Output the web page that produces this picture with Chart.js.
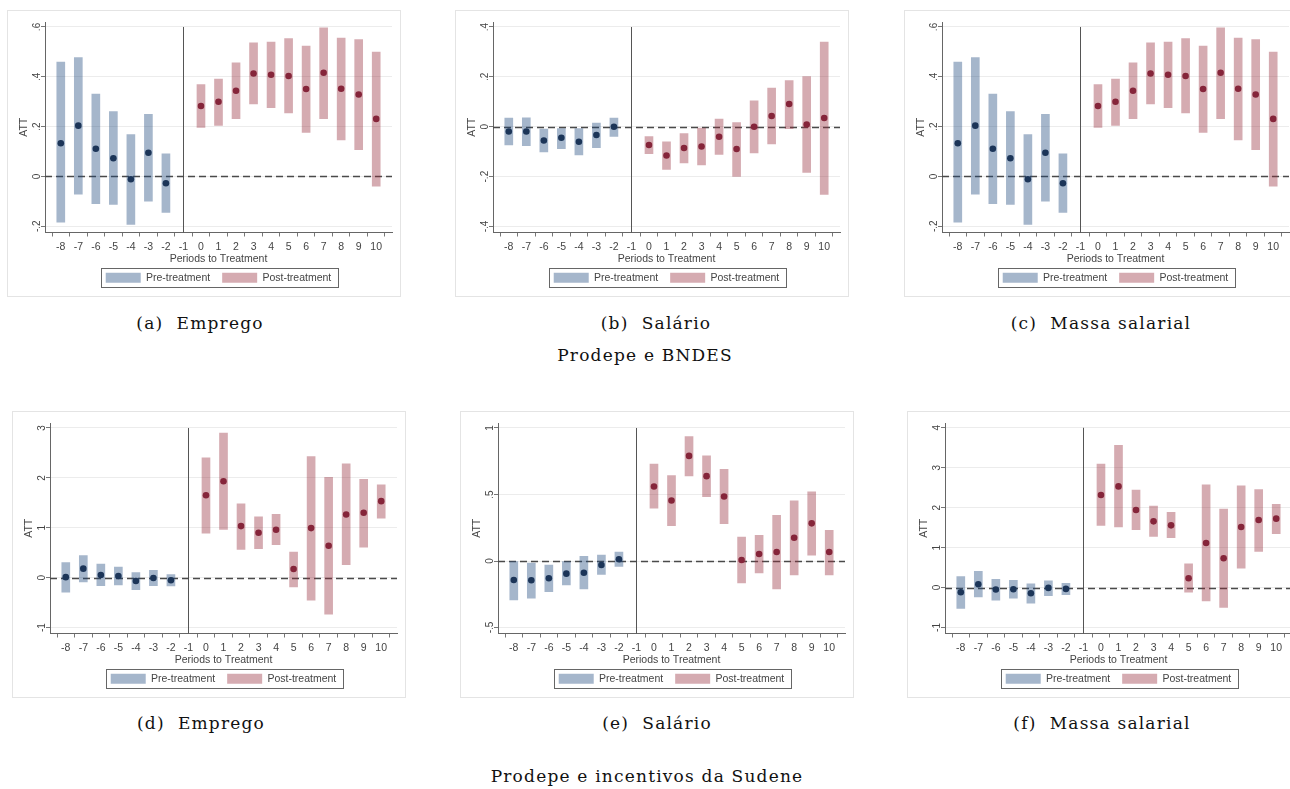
<!DOCTYPE html>
<html>
<head>
<meta charset="utf-8">
<script src="https://cdn.jsdelivr.net/npm/chart.js@4.4.1/dist/chart.umd.min.js"></script>
<style>
  body { margin: 0; width: 1290px; height: 789px; overflow: hidden; position: relative; background: #fff; }
  .panel { position: absolute; }
  .cap { position: absolute; font-family: 'DejaVu Serif', serif; font-size: 17px; letter-spacing: 1.2px; color: #111;
         transform: translate(-50%, -50%); white-space: nowrap; }
</style>
</head>
<body>
<canvas id="chartA" class="panel" width="394" height="287" style="left:7px;top:10px"></canvas>
<canvas id="chartB" class="panel" width="394" height="287" style="left:455px;top:10px"></canvas>
<canvas id="chartC" class="panel" width="394" height="287" style="left:904px;top:10px"></canvas>
<canvas id="chartD" class="panel" width="394" height="287" style="left:12px;top:411px"></canvas>
<canvas id="chartE" class="panel" width="394" height="287" style="left:460px;top:411px"></canvas>
<canvas id="chartF" class="panel" width="394" height="287" style="left:907px;top:411px"></canvas>

<div class="cap" style="left:200px;top:323px">(a)&nbsp; Emprego</div>
<div class="cap" style="left:656px;top:323px">(b)&nbsp; Salário</div>
<div class="cap" style="left:1101px;top:323px">(c)&nbsp; Massa salarial</div>
<div class="cap" style="left:645px;top:355px">Prodepe e BNDES</div>
<div class="cap" style="left:201px;top:723px">(d)&nbsp; Emprego</div>
<div class="cap" style="left:657px;top:723px">(e)&nbsp; Salário</div>
<div class="cap" style="left:1102px;top:723px">(f)&nbsp; Massa salarial</div>
<div class="cap" style="left:647px;top:776px">Prodepe e incentivos da Sudene</div>

<script>
// periods with an estimate (-1 is the reference period)
const periods = [-8, -7, -6, -5, -4, -3, -2, 0, 1, 2, 3, 4, 5, 6, 7, 8, 9, 10];
const periodTicks = [-8, -7, -6, -5, -4, -3, -2, -1, 0, 1, 2, 3, 4, 5, 6, 7, 8, 9, 10];

// (a) Prodepe e BNDES - Emprego
const empregoBndesEst = [0.133, 0.204, 0.111, 0.073, -0.011, 0.095, -0.027, 0.283, 0.300, 0.344, 0.413, 0.408, 0.403, 0.351, 0.416, 0.352, 0.329, 0.231];
const empregoBndesLo  = [-0.184, -0.071, -0.109, -0.112, -0.193, -0.099, -0.144, 0.197, 0.205, 0.232, 0.291, 0.276, 0.255, 0.177, 0.232, 0.147, 0.107, -0.039];
const empregoBndesHi  = [0.459, 0.477, 0.331, 0.260, 0.168, 0.249, 0.091, 0.369, 0.391, 0.456, 0.536, 0.539, 0.553, 0.523, 0.597, 0.555, 0.549, 0.499];

// (b) Prodepe e BNDES - Salário
const salarioBndesEst = [-0.019, -0.019, -0.055, -0.044, -0.060, -0.033, 0.000, -0.073, -0.115, -0.085, -0.079, -0.040, -0.089, 0.000, 0.043, 0.091, 0.009, 0.035];
const salarioBndesLo  = [-0.073, -0.076, -0.101, -0.088, -0.113, -0.084, -0.039, -0.108, -0.171, -0.145, -0.153, -0.111, -0.199, -0.105, -0.069, -0.008, -0.183, -0.271];
const salarioBndesHi  = [0.035, 0.036, -0.009, -0.007, -0.007, 0.015, 0.035, -0.039, -0.060, -0.027, -0.005, 0.031, 0.017, 0.104, 0.155, 0.185, 0.201, 0.339];

// (c) Prodepe e BNDES - Massa salarial
const massaBndesEst = [0.133, 0.204, 0.111, 0.073, -0.011, 0.095, -0.027, 0.283, 0.300, 0.344, 0.413, 0.408, 0.403, 0.351, 0.416, 0.352, 0.329, 0.231];
const massaBndesLo  = [-0.184, -0.071, -0.109, -0.112, -0.193, -0.099, -0.144, 0.197, 0.205, 0.232, 0.291, 0.276, 0.255, 0.177, 0.232, 0.147, 0.107, -0.039];
const massaBndesHi  = [0.459, 0.477, 0.331, 0.260, 0.168, 0.249, 0.091, 0.369, 0.391, 0.456, 0.536, 0.539, 0.553, 0.523, 0.597, 0.555, 0.549, 0.499];

// (d) Prodepe e incentivos da Sudene - Emprego
const empregoSudeneEst = [0.010, 0.180, 0.053, 0.033, -0.067, -0.007, -0.053, 1.653, 1.933, 1.033, 0.900, 0.960, 0.173, 0.993, 0.640, 1.267, 1.300, 1.533];
const empregoSudeneLo  = [-0.290, -0.087, -0.160, -0.147, -0.240, -0.160, -0.167, 0.893, 0.967, 0.567, 0.580, 0.660, -0.187, -0.453, -0.733, 0.260, 0.613, 1.193];
const empregoSudeneHi  = [0.300, 0.440, 0.270, 0.210, 0.100, 0.147, 0.060, 2.400, 2.900, 1.480, 1.220, 1.267, 0.513, 2.427, 2.013, 2.280, 1.973, 1.860];

// (e) Prodepe e incentivos da Sudene - Salário
const salarioSudeneEst = [-0.143, -0.145, -0.130, -0.095, -0.088, -0.030, 0.013, 0.560, 0.455, 0.790, 0.638, 0.485, 0.008, 0.053, 0.068, 0.175, 0.283, 0.068];
const salarioSudeneLo  = [-0.293, -0.280, -0.230, -0.180, -0.210, -0.100, -0.040, 0.398, 0.265, 0.640, 0.483, 0.280, -0.165, -0.090, -0.210, -0.105, 0.043, -0.105];
const salarioSudeneHi  = [0.000, -0.015, -0.030, 0.000, 0.035, 0.045, 0.068, 0.728, 0.643, 0.935, 0.790, 0.690, 0.180, 0.193, 0.343, 0.453, 0.520, 0.230];

// (f) Prodepe e incentivos da Sudene - Massa salarial
const massaSudeneEst = [-0.117, 0.083, -0.050, -0.042, -0.142, -0.008, -0.033, 2.317, 2.533, 1.942, 1.658, 1.558, 0.233, 1.117, 0.733, 1.517, 1.692, 1.725];
const massaSudeneLo  = [-0.525, -0.233, -0.317, -0.267, -0.392, -0.200, -0.175, 1.558, 1.517, 1.450, 1.283, 1.250, -0.117, -0.333, -0.500, 0.483, 0.908, 1.350];
const massaSudeneHi  = [0.275, 0.408, 0.208, 0.183, 0.092, 0.167, 0.108, 3.090, 3.558, 2.442, 2.042, 1.883, 0.592, 2.575, 1.967, 2.550, 2.450, 2.083];

// y axis tick labels per panel
const ticksBndesA = [-0.2, 0, 0.2, 0.4, 0.6];
const ticksBndesB = [-0.4, -0.2, 0, 0.2, 0.4];
const ticksSudeneD = [-1, 0, 1, 2, 3];
const ticksSudeneE = [-0.5, 0, 0.5, 1];
const ticksSudeneF = [-1, 0, 1, 2, 3, 4];

const FONT = "'Liberation Sans', Arial, sans-serif";
const TEXT_COLOR = '#444';
const PRE_BAR = 'rgba(31, 73, 125, 0.4)';
const POST_BAR = 'rgba(150, 45, 60, 0.4)';
const PRE_DOT = '#1c3558';
const POST_DOT = '#85253a';

// Stata style labels: .4 instead of 0.4
function stataLabel(v) {
    let s = String(+v.toFixed(2));
    return s.replace(/^0\./, '.').replace(/^-0\./, '-.');
}

const panelDecor = {
    id: 'panelDecor',
    beforeDraw(chart) {
        const { ctx, width, height } = chart;
        ctx.save();
        ctx.fillStyle = '#fff';
        ctx.fillRect(0, 0, width, height);
        ctx.strokeStyle = '#e4e4e4';
        ctx.lineWidth = 1;
        ctx.strokeRect(0.5, 0.5, width - 1, height - 1);
        ctx.restore();
    },
    beforeDatasetsDraw(chart) {
        const { ctx, chartArea, scales: { x, y } } = chart;
        const topTick = Math.max(...y.ticks.map(t => t.value));
        const xv = Math.round(x.getPixelForValue(-1)) + 0.5;
        ctx.save();
        // treatment start
        ctx.strokeStyle = '#555';
        ctx.lineWidth = 1;
        ctx.beginPath();
        ctx.moveTo(xv, y.getPixelForValue(topTick));
        ctx.lineTo(xv, chartArea.bottom);
        ctx.stroke();
        // zero line
        const y0 = Math.round(y.getPixelForValue(0)) + 0.5;
        ctx.setLineDash([7, 4]);
        ctx.lineWidth = 1.6;
        ctx.strokeStyle = '#4a4a4a';
        ctx.beginPath();
        ctx.moveTo(chartArea.left, y0);
        ctx.lineTo(chartArea.right, y0);
        ctx.stroke();
        ctx.restore();
    },
    afterDraw(chart) {
        const { ctx, chartArea, scales: { y } } = chart;
        ctx.save();
        // rotated y tick labels
        ctx.fillStyle = TEXT_COLOR;
        ctx.font = '10px ' + FONT;
        ctx.textAlign = 'center';
        ctx.textBaseline = 'middle';
        y.ticks.forEach(t => {
            ctx.save();
            ctx.translate(chartArea.left - 8, y.getPixelForValue(t.value));
            ctx.rotate(-Math.PI / 2);
            ctx.fillText(stataLabel(t.value), 0, 0);
            ctx.restore();
        });
        // legend frame
        const hb = chart.legend.legendHitBoxes;
        if (hb && hb.length) {
            const first = hb[0], last = hb[hb.length - 1];
            const left = Math.round(first.left - 5) + 0.5;
            const right = Math.round(last.left + last.width + 7) + 0.5;
            const top = Math.round(first.top - 5) + 0.5;
            const bottom = Math.round(first.top + first.height + 4) + 0.5;
            ctx.strokeStyle = '#666';
            ctx.lineWidth = 1;
            ctx.strokeRect(left, top, right - left, bottom - top);
        }
        ctx.restore();
    }
};

function makePanel(id, est, lo, hi, yMin, yMax, yTicks) {
    const preIdx = periods.map((p, i) => i).filter(i => periods[i] < 0);
    const postIdx = periods.map((p, i) => i).filter(i => periods[i] >= 0);
    const bars = idx => idx.map(i => ({ x: periods[i], y: [lo[i], hi[i]] }));
    const dots = idx => idx.map(i => ({ x: periods[i], y: est[i] }));

    new Chart(document.getElementById(id), {
        type: 'bar',
        data: {
            datasets: [
                { label: 'Pre-treatment', data: bars(preIdx), backgroundColor: PRE_BAR, borderWidth: 0,
                  barThickness: 8, grouped: false, order: 2 },
                { label: 'Post-treatment', data: bars(postIdx), backgroundColor: POST_BAR, borderWidth: 0,
                  barThickness: 8, grouped: false, order: 2 },
                { type: 'scatter', label: 'pre-est', data: dots(preIdx), backgroundColor: PRE_DOT,
                  borderWidth: 0, pointRadius: 3.3, order: 1 },
                { type: 'scatter', label: 'post-est', data: dots(postIdx), backgroundColor: POST_DOT,
                  borderWidth: 0, pointRadius: 3.3, order: 1 }
            ]
        },
        options: {
            responsive: false,
            animation: false,
            layout: { padding: { top: 12, left: 8, right: 9, bottom: 4 } },
            scales: {
                x: {
                    type: 'linear',
                    min: -8.38,
                    max: 10.38,
                    afterBuildTicks: s => { s.ticks = periodTicks.map(v => ({ value: v })); },
                    afterFit: s => { s.height = 28; },
                    ticks: { autoSkip: false, maxRotation: 0, padding: 4, color: TEXT_COLOR,
                             font: { family: FONT, size: 10.5 }, callback: v => String(v) },
                    grid: { drawOnChartArea: false, tickLength: 4, tickColor: '#777' },
                    border: { display: true, color: '#666' },
                    title: { display: true, text: 'Periods to Treatment', color: TEXT_COLOR,
                             font: { family: FONT, size: 10.5 }, padding: { top: 0, bottom: -5 } }
                },
                y: {
                    min: yMin,
                    max: yMax,
                    afterBuildTicks: s => { s.ticks = yTicks.map(v => ({ value: v })); },
                    afterFit: s => { s.width = 30; },
                    ticks: { display: false },
                    grid: { color: '#ececec', tickLength: 4, tickColor: '#777' },
                    border: { display: true, color: '#666' },
                    title: { display: true, text: 'ATT', color: TEXT_COLOR,
                             font: { family: FONT, size: 10.5 }, padding: { top: 3, bottom: 0 } }
                }
            },
            plugins: {
                legend: {
                    position: 'bottom',
                    fullSize: false,
                    labels: {
                        boxWidth: 35, boxHeight: 10, padding: 12, color: TEXT_COLOR,
                        font: { family: FONT, size: 10.5 },
                        filter: item => item.text.indexOf('treatment') >= 0
                    }
                },
                tooltip: { enabled: false }
            }
        },
        plugins: [panelDecor]
    });
}

makePanel('chartA', empregoBndesEst, empregoBndesLo, empregoBndesHi, -0.225, 0.62, ticksBndesA);
makePanel('chartB', salarioBndesEst, salarioBndesLo, salarioBndesHi, -0.424, 0.42, ticksBndesB);
makePanel('chartC', massaBndesEst, massaBndesLo, massaBndesHi, -0.225, 0.62, ticksBndesA);
makePanel('chartD', empregoSudeneEst, empregoSudeneLo, empregoSudeneHi, -1.12, 3.1, ticksSudeneD);
makePanel('chartE', salarioSudeneEst, salarioSudeneLo, salarioSudeneHi, -0.545, 1.0375, ticksSudeneE);
makePanel('chartF', massaSudeneEst, massaSudeneLo, massaSudeneHi, -1.15, 4.12, ticksSudeneF);
</script>
</body>
</html>
